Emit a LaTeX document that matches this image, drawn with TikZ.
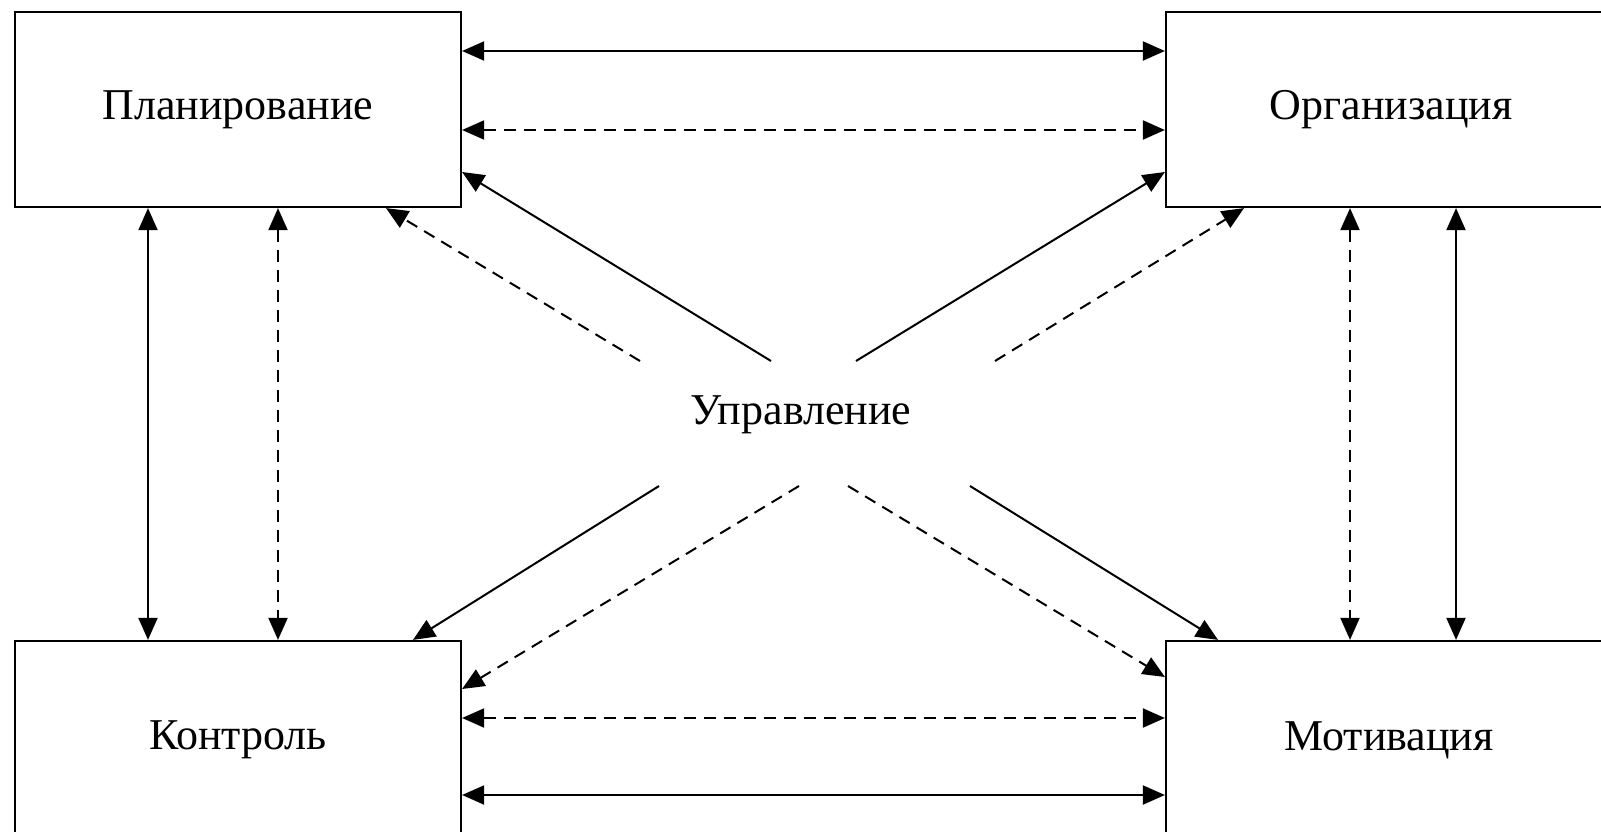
\documentclass[tikz,border=0pt]{standalone}
\usepackage{fontspec}
\setmainfont{Liberation Serif}
\usetikzlibrary{arrows.meta}
\begin{document}
\begin{tikzpicture}[x=1pt,y=-1pt,
  box/.style={draw, line width=2.2pt, rectangle, inner sep=0pt, font=\fontsize{44}{50}\selectfont},
  lbl/.style={inner sep=0pt, font=\fontsize{44}{50}\selectfont},
  conn/.style={line width=2pt, -{Triangle[length=22pt,width=19pt]}},
  biconn/.style={line width=2pt, {Triangle[length=22pt,width=19pt]}-{Triangle[length=22pt,width=19pt]}},
  dsh/.style={dash pattern=on 12pt off 8pt}]
\useasboundingbox (0,0) rectangle (1601,832);
\fill[white] (0,0) rectangle (1601,832);
\node[box, minimum width=446pt, minimum height=195pt] (pl) at (238,109.5) {Планирование};
\node[box, minimum width=450pt, minimum height=195pt] (org) at (1391,109.5) {Организация};
\node[box, minimum width=446pt, minimum height=199pt] (kon) at (238,740.5) {};
\node[box, minimum width=450pt, minimum height=199pt] (mot) at (1391,740.5) {};
\node[lbl] (kontxt) at (238,740) {Контроль};
\node[lbl] (mottxt) at (1389,740) {Мотивация};
\node[lbl] (upr) at (801,415) {Управление};
% horizontal
\draw[biconn] (pl.east |- 0,51) -- (org.west |- 0,51);
\draw[biconn, dsh] (pl.east |- 0,130) -- (org.west |- 0,130);
\draw[biconn, dsh] (kon.east |- 0,718) -- (mot.west |- 0,718);
\draw[biconn] (kon.east |- 0,795) -- (mot.west |- 0,795);
% vertical
\draw[biconn] (pl.south -| 148,0) -- (kon.north -| 148,0);
\draw[biconn, dsh] (pl.south -| 278,0) -- (kon.north -| 278,0);
\draw[biconn, dsh] (org.south -| 1350,0) -- (mot.north -| 1350,0);
\draw[biconn] (org.south -| 1456,0) -- (mot.north -| 1456,0);
% diagonal free ends
\coordinate (a1) at (771,361);
\coordinate (a2) at (640,361);
\coordinate (a3) at (856,361);
\coordinate (a4) at (995,361);
\coordinate (b1) at (659,486);
\coordinate (b2) at (799,486);
\coordinate (b3) at (848,486);
\coordinate (b4) at (970,486);
\draw[conn] (a1) -- (pl.east |- 0,172);
\draw[conn, dsh] (a2) -- (pl.south -| 386,0);
\draw[conn] (a3) -- (org.west |- 0,172);
\draw[conn, dsh] (a4) -- (org.south -| 1244,0);
\draw[conn] (b1) -- (kon.north -| 413,0);
\draw[conn, dsh] (b2) -- (kon.east |- 0,689);
\draw[conn, dsh] (b3) -- (mot.west |- 0,677);
\draw[conn] (b4) -- (mot.north -| 1218,0);
\end{tikzpicture}
\end{document}
